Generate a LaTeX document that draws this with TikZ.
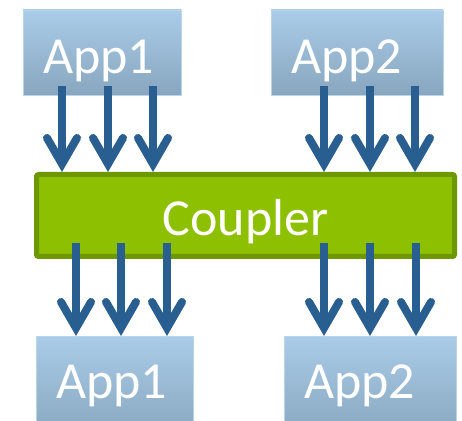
\documentclass[tikz,border=0pt]{standalone}
\usepackage{fontspec}
\setmainfont{Carlito}
\usetikzlibrary{arrows.meta,calc,shadows}
\definecolor{boxtop}{RGB}{170,204,232}
\definecolor{boxbot}{RGB}{136,166,191}
\definecolor{boxedge}{RGB}{186,212,234}
\definecolor{cfill}{RGB}{141,192,0}
\definecolor{cedge}{RGB}{110,152,0}
\definecolor{arrc}{RGB}{41,94,145}
\tikzset{
  appbox/.style={rectangle, top color=boxtop, bottom color=boxbot, draw=boxedge, line width=0.8pt,
    drop shadow={shadow xshift=1.2pt, shadow yshift=-1.5pt, opacity=0.35},
    inner xsep=20pt, inner ysep=0pt, outer sep=0pt, align=left,
    text=white, font=\fontsize{52}{60}\selectfont, text height=42pt, text depth=0pt},
  coupbox/.style={rectangle, fill=cfill, draw=cedge, line width=5pt, rounded corners=2pt,
    minimum width=418pt, minimum height=82pt, inner sep=0pt, outer sep=0pt,
    text=white, font=\fontsize{52}{60}\selectfont, text height=40pt, text depth=0pt},
  arr/.style={draw=arrc, line width=8pt,
    -{Straight Barb[length=26pt, width=30pt, line cap=round, line join=miter]}}
}
\begin{document}
\begin{tikzpicture}[x=1pt,y=1pt]
\useasboundingbox (0,0) rectangle (462,420);
\node[appbox, minimum width=158pt, minimum height=85pt, text width=118pt] (a1) at (102,367.5) {App1};
\node[appbox, minimum width=172pt, minimum height=85pt, text width=132pt] (a2) at (357,367.5) {App2};
\node[coupbox] (c) at (245.5,204.5) {Coupler};
\node[appbox, minimum width=157pt, minimum height=100pt, text width=117pt, text depth=18pt] (b1) at (114.5,34) {App1};
\node[appbox, minimum width=172pt, minimum height=100pt, text width=132pt, text depth=18pt] (b2) at (370,34) {App2};
\foreach \x in {62,108,153}
  \draw[arr] ($(\x,0 |- a1.south)+(0,9)$) -- ($(\x,0 |- c.north)+(0,2.5)$);
\foreach \x in {324,370,415}
  \draw[arr] ($(\x,0 |- a2.south)+(0,9)$) -- ($(\x,0 |- c.north)+(0,2.5)$);
\foreach \x in {76,121,167}
  \draw[arr] ($(\x,0 |- c.south)+(0,13)$) -- (\x,0 |- b1.north);
\foreach \x in {324,370,416}
  \draw[arr] ($(\x,0 |- c.south)+(0,13)$) -- (\x,0 |- b2.north);
\end{tikzpicture}
\end{document}
